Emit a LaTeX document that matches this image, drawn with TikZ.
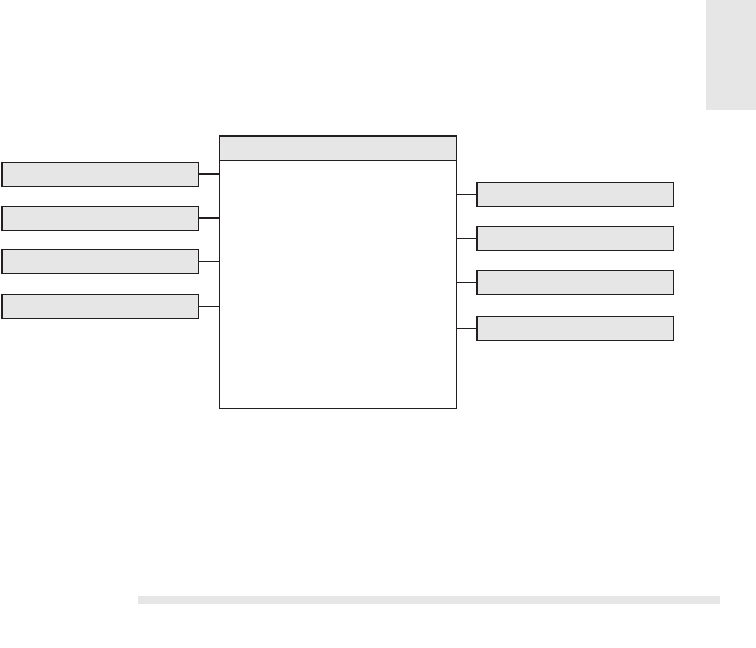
\documentclass[tikz,border=0pt]{standalone}
\usepackage{tikz}
\usetikzlibrary{positioning}

\definecolor{boxgray}{HTML}{E6E6E6}
\definecolor{inkline}{HTML}{231F20}

\begin{document}
\begin{tikzpicture}[x=1pt,y=-1pt,
  unit/.style={draw=inkline,line width=1.1pt,fill=boxgray,minimum width=196.7pt,minimum height=24pt,inner sep=0pt,outer sep=0pt},
  link/.style={draw=inkline,line width=0.9pt},
  buslink/.style={draw=inkline,line width=1.9pt}]
  \useasboundingbox (0,0) rectangle (756,648);
  % page tab and footer bar
  \fill[boxgray] (706,0) rectangle (756,110);
  \fill[boxgray] (138,596) rectangle (720,604);
  % central block
  \node[draw=inkline,line width=1.1pt,minimum width=237pt,minimum height=272.5pt,inner sep=0pt,outer sep=0pt] (main) at (337.8,272.2) {};
  \node[draw=inkline,line width=1.1pt,fill=boxgray,minimum width=237pt,minimum height=24.3pt,inner sep=0pt,outer sep=0pt,anchor=north] (head) at (main.north) {};
  % left side
  \node[unit] (in1) at (100.3,174.3) {};
  \node[unit] (in2) at (100.3,218.3) {};
  \node[unit] (in3) at (100.3,261.2) {};
  \node[unit] (in4) at (100.3,306.2) {};
  \draw[buslink] (in1.east) -- (in1.east -| main.west);
  \draw[buslink] (in2.east) -- (in2.east -| main.west);
  \draw[link] (in3.east) -- (in3.east -| main.west);
  \draw[link] (in4.east) -- (in4.east -| main.west);
  % right side
  \node[unit] (out1) at (575.3,194.2) {};
  \node[unit] (out2) at (575.3,238.3) {};
  \node[unit] (out3) at (575.3,282.5) {};
  \node[unit] (out4) at (575.3,328.3) {};
  \foreach \n in {1,2,3,4} \draw[link] (out\n.west -| main.east) -- (out\n.west);
\end{tikzpicture}
\end{document}
